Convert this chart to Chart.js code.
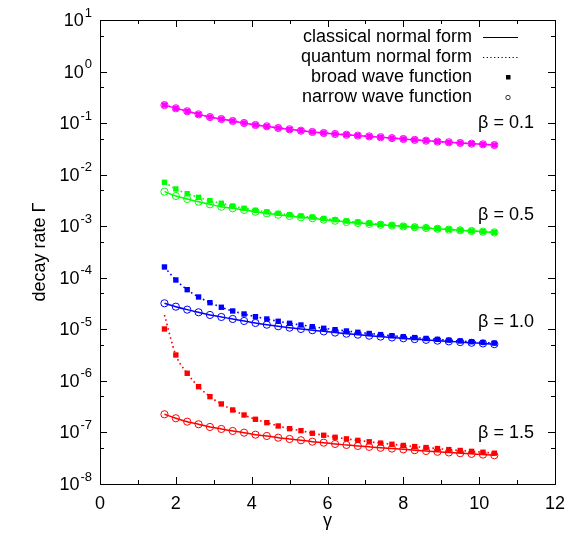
<!DOCTYPE html>
<html><head><meta charset="utf-8">
<script src="https://cdn.jsdelivr.net/npm/chart.js@4/dist/chart.umd.min.js"></script>
<style>html,body{margin:0;padding:0;background:#fff}#wrap{width:581px;height:543px}</style>
</head><body><div id="wrap"><canvas id="c" width="581" height="543"></canvas></div>
<script>
// ---- data ----
const gamma = [1.7,2.0,2.3,2.6,2.9,3.2,3.5,3.8,4.1,4.4,4.7,5.0,5.3,5.6,5.9,6.2,6.5,6.8,7.1,7.4,7.7,8.0,8.3,8.6,8.9,9.2,9.5,9.8,10.1,10.4];

const broad01 = [0.224,0.194,0.170,0.148,0.131,0.120,0.110,0.1005,0.0919,0.0868,0.0804,0.0759,0.0713,0.0673,0.0643,0.0615,0.0594,0.0573,0.0553,0.0533,0.0512,0.0492,0.0473,0.0456,0.0438,0.0425,0.0412,0.0399,0.0388,0.0376];
const narrow01 = [0.224,0.194,0.170,0.148,0.131,0.120,0.110,0.1005,0.0919,0.0868,0.0804,0.0759,0.0713,0.0673,0.0643,0.0615,0.0594,0.0573,0.0553,0.0533,0.0512,0.0492,0.0473,0.0456,0.0438,0.0425,0.0412,0.0399,0.0388,0.0376];

const broad05 = [7.12e-3,5.28e-3,4.28e-3,3.64e-3,3.13e-3,2.79e-3,2.47e-3,2.23e-3,2.04e-3,1.90e-3,1.78e-3,1.67e-3,1.58e-3,1.50e-3,1.41e-3,1.34e-3,1.26e-3,1.20e-3,1.14e-3,1.09e-3,1.05e-3,1.006e-3,9.67e-4,9.33e-4,9.00e-4,8.69e-4,8.42e-4,8.12e-4,7.87e-4,7.63e-4];
const narrow05 = [4.68e-3,3.86e-3,3.38e-3,2.99e-3,2.66e-3,2.39e-3,2.23e-3,2.07e-3,1.91e-3,1.78e-3,1.67e-3,1.58e-3,1.49e-3,1.43e-3,1.34e-3,1.28e-3,1.21e-3,1.156e-3,1.11e-3,1.066e-3,1.03e-3,9.93e-4,9.58e-4,9.25e-4,8.92e-4,8.61e-4,8.34e-4,8.08e-4,7.84e-4,7.59e-4];

const broad10 = [1.62e-4,9.06e-5,5.88e-5,4.24e-5,3.29e-5,2.68e-5,2.27e-5,1.985e-5,1.759e-5,1.588e-5,1.433e-5,1.310e-5,1.215e-5,1.126e-5,1.048e-5,9.85e-6,9.29e-6,8.77e-6,8.31e-6,7.91e-6,7.53e-6,7.20e-6,6.92e-6,6.65e-6,6.39e-6,6.16e-6,5.94e-6,5.74e-6,5.56e-6,5.39e-6];
const narrow10 = [3.20e-5,2.75e-5,2.41e-5,2.14e-5,1.90e-5,1.737e-5,1.588e-5,1.453e-5,1.328e-5,1.231e-5,1.147e-5,1.077e-5,1.016e-5,9.63e-6,9.13e-6,8.65e-6,8.24e-6,7.88e-6,7.53e-6,7.24e-6,6.95e-6,6.71e-6,6.47e-6,6.25e-6,6.03e-6,5.84e-6,5.66e-6,5.49e-6,5.32e-6,5.16e-6];

const broad15 = [1.016e-5,3.18e-6,1.405e-6,7.72e-7,4.94e-7,3.57e-7,2.73e-7,2.18e-7,1.80e-7,1.548e-7,1.335e-7,1.184e-7,1.083e-7,9.64e-8,8.82e-8,8.06e-8,7.51e-8,7.02e-8,6.59e-8,6.22e-8,5.90e-8,5.59e-8,5.32e-8,5.09e-8,4.87e-8,4.65e-8,4.47e-8,4.30e-8,4.13e-8,3.96e-8];
const narrow15 = [2.25e-7,1.884e-7,1.619e-7,1.441e-7,1.277e-7,1.168e-7,1.068e-7,9.90e-8,9.05e-8,8.54e-8,7.92e-8,7.47e-8,7.05e-8,6.62e-8,6.33e-8,5.98e-8,5.72e-8,5.47e-8,5.25e-8,5.04e-8,4.87e-8,4.70e-8,4.53e-8,4.37e-8,4.22e-8,4.09e-8,3.96e-8,3.84e-8,3.72e-8,3.61e-8];

// normal-form curves
const classical01 = narrow01, quantum01 = broad01;
const classical05 = narrow05, quantum05 = broad05;
const classical10 = narrow10, quantum10 = broad10;
const classical15 = narrow15;
const quantum15 = [1.90e-5,3.18e-6,1.405e-6,7.72e-7,4.94e-7,3.57e-7,2.73e-7,2.18e-7,1.80e-7,1.548e-7,1.335e-7,1.184e-7,1.083e-7,9.64e-8,8.82e-8,8.06e-8,7.51e-8,7.02e-8,6.59e-8,6.22e-8,5.90e-8,5.59e-8,5.32e-8,5.09e-8,4.87e-8,4.65e-8,4.47e-8,4.30e-8,4.13e-8,3.96e-8];

const betaLabels = ['β = 0.1','β = 0.5','β = 1.0','β = 1.5'];
const legendLabels = ['classical normal form','quantum normal form','broad wave function','narrow wave function'];
const xTicks = [0,2,4,6,8,10,12];
const yExponents = [1,0,-1,-2,-3,-4,-5,-6,-7,-8];
const xTitle = 'γ';
const yTitle = 'decay rate Γ';

// ---- build ----
const colors = ['#ff00ff','#00ff00','#0000ff','#ff0000'];
const groups = [
  [classical01, quantum01, broad01, narrow01],
  [classical05, quantum05, broad05, narrow05],
  [classical10, quantum10, broad10, narrow10],
  [classical15, quantum15, broad15, narrow15]
];
const pts = arr => arr.map((v,i)=>({x:gamma[i], y:v}));
const datasets = [];
groups.forEach((g,gi)=>{
  const c = colors[gi];
  datasets.push({data:pts(g[0]), showLine:true, borderColor:c, borderWidth:1.5, pointRadius:0, cubicInterpolationMode:'monotone', fill:false});
  datasets.push({data:pts(g[1]), showLine:true, borderColor:c, borderWidth:1.6, borderDash:[1.6,3], pointRadius:0, cubicInterpolationMode:'monotone', fill:false});
  datasets.push({data:pts(g[2]), showLine:false, pointStyle:'rect', pointRadius:3.8, backgroundColor:c, borderColor:c, borderWidth:0});
  datasets.push({data:pts(g[3]), showLine:false, pointStyle:'circle', pointRadius:3.6, backgroundColor:'rgba(0,0,0,0)', borderColor:c, borderWidth:1});
});

const FONT = '"Liberation Sans", Arial, Helvetica, sans-serif';

const decor = {
  id:'decor',
  afterDraw(chart){
    const ctx = chart.ctx, a = chart.chartArea;
    const xs = chart.scales.x, ys = chart.scales.y;
    ctx.save();
    ctx.strokeStyle = '#000'; ctx.lineWidth = 1;
    ctx.strokeRect(Math.round(a.left)+0.5, Math.round(a.top)+0.5, Math.round(a.right-a.left), Math.round(a.bottom-a.top));
    // x ticks
    ctx.beginPath();
    for(let v=0; v<=12; v++){
      const px = Math.round(xs.getPixelForValue(v))+0.5;
      const len = v%2===0 ? 7 : 4;
      ctx.moveTo(px, a.bottom); ctx.lineTo(px, a.bottom-len);
      ctx.moveTo(px, a.top); ctx.lineTo(px, a.top+len);
    }
    // y ticks
    yExponents.forEach(e=>{
      const py = Math.round(ys.getPixelForValue(Math.pow(10,e)))+0.5;
      ctx.moveTo(a.left, py); ctx.lineTo(a.left+7, py);
      ctx.moveTo(a.right, py); ctx.lineTo(a.right-7, py);
      if (e < 1) {
        const pm = Math.round(ys.getPixelForValue(5*Math.pow(10,e)))+0.5;
        ctx.moveTo(a.left, pm); ctx.lineTo(a.left+4, pm);
        ctx.moveTo(a.right, pm); ctx.lineTo(a.right-4, pm);
      }
    });
    ctx.stroke();
    // x labels
    ctx.fillStyle = '#000';
    ctx.font = '18px ' + FONT;
    ctx.textAlign = 'center'; ctx.textBaseline = 'middle';
    xTicks.forEach(v=>{
      ctx.fillText(String(v), xs.getPixelForValue(v), a.bottom+20);
    });
    // y labels
    yExponents.forEach(e=>{
      const py = ys.getPixelForValue(Math.pow(10,e));
      const sup = String(e);
      ctx.font = '13px ' + FONT;
      const sw = ctx.measureText(sup).width;
      ctx.textAlign = 'left'; ctx.textBaseline = 'middle';
      const right = a.left - 8;
      ctx.fillText(sup, right - sw, py - 7);
      ctx.font = '18px ' + FONT;
      ctx.textAlign = 'right';
      ctx.fillText('10', right - sw - 1, py + 1);
    });
    // axis titles
    ctx.font = '18px ' + FONT;
    ctx.textAlign = 'center'; ctx.textBaseline = 'middle';
    ctx.fillText(xTitle, (a.left+a.right)/2, a.bottom+37);
    ctx.save();
    ctx.translate(40, (a.top+a.bottom)/2);
    ctx.rotate(-Math.PI/2);
    ctx.fillText(yTitle, 0, 0);
    ctx.restore();
    // beta labels
    const betaY = [123, 215, 322, 433];
    ctx.textAlign = 'right';
    betaLabels.forEach((t,i)=>{ ctx.fillText(t, 534, betaY[i]); });
    // legend
    const rowY = [37, 57, 77, 97];
    legendLabels.forEach((t,i)=>{ ctx.fillText(t, 472, rowY[i]); });
    ctx.lineWidth = 1.2;
    ctx.beginPath(); ctx.moveTo(483, rowY[0]+0.5); ctx.lineTo(518, rowY[0]+0.5); ctx.stroke();
    ctx.setLineDash([1.2,2.5]);
    ctx.beginPath(); ctx.moveTo(483, rowY[1]+0.5); ctx.lineTo(518, rowY[1]+0.5); ctx.stroke();
    ctx.setLineDash([]);
    ctx.fillRect(506, rowY[2]-2, 4.5, 4.5);
    ctx.lineWidth = 0.8;
    ctx.beginPath(); ctx.arc(508, rowY[3]+0.5, 2.2, 0, Math.PI*2); ctx.stroke();
    ctx.restore();
  }
};

new Chart(document.getElementById('c'), {
  type:'scatter',
  data:{datasets},
  options:{
    responsive:false, animation:false, devicePixelRatio:1,
    layout:{padding:{left:100, top:20, right:26, bottom:59}},
    plugins:{legend:{display:false}, tooltip:{enabled:false}},
    scales:{
      x:{type:'linear', min:0, max:12, display:false},
      y:{type:'logarithmic', min:1e-8, max:10, display:false}
    }
  },
  plugins:[decor]
});
</script></body></html>
